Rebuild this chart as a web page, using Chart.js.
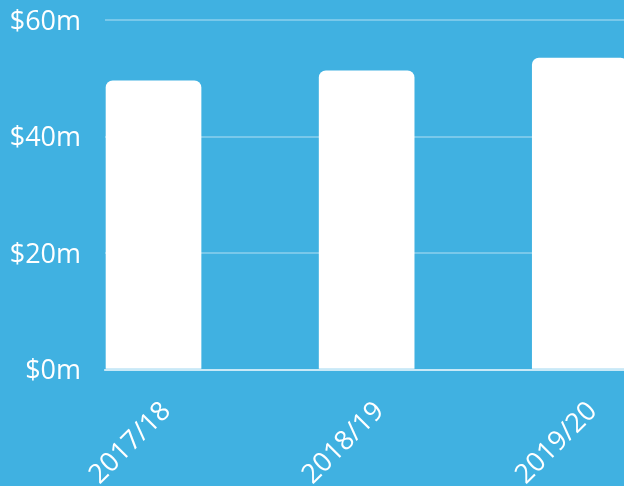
<!DOCTYPE html>
<html>
<head>
<meta charset="utf-8">
<script src="https://cdn.jsdelivr.net/npm/chart.js@4"></script>
<style>
  html, body { margin: 0; padding: 0; background: #40b1e1; overflow: hidden; }
  #wrap { position: relative; width: 723px; height: 506px; margin-top: -20px; }
</style>
</head>
<body>
<div id="wrap"><canvas id="budgetChart"></canvas></div>
<script>
const years = ['2017/18', '2018/19', '2019/20']
const funding = [49.6, 51.3, 53.5]   // $ millions
const yTicks = [0, 20, 40, 60]

const barData = {
    datasets: [{
        label: 'Funding',
        data: funding.map((v, i) => ({x: i, y: v})),
        backgroundColor: '#ffffff',
        borderRadius: 7,
        borderSkipped: 'start',
        barThickness: 95
    }]
}

const config_bar = {
    type: 'bar',
    data: barData,
    options: {
        responsive: true,
        maintainAspectRatio: false,
        animation: false,
        layout: {padding: 0},
        plugins: {
            legend: {display: false},
            tooltip: {enabled: false}
        },
        scales: {
            x: {
                type: 'linear',
                offset: false,
                min: -0.2277,
                max: 2.672,
                grid: {display: false, offset: false},
                border: {display: true, color: 'rgba(255,255,255,0.6)', width: 2},
                afterBuildTicks: function(scale) {
                    scale.ticks = years.map((_, i) => ({value: i}))
                },
                afterFit: function(scale) { scale.height = 116.5 },
                ticks: {
                    color: '#ffffff',
                    font: {family: 'Open Sans', size: 27},
                    minRotation: 45,
                    maxRotation: 45,
                    autoSkip: false,
                    padding: 18,
                    labelOffset: 13,
                    callback: function(value) { return years[value] }
                }
            },
            y: {
                min: 0,
                max: 60,
                afterBuildTicks: function(scale) {
                    scale.ticks = yTicks.map(v => ({value: v}))
                },
                afterFit: function(scale) { scale.width = 105 },
                grid: {color: 'rgba(255,255,255,0.3)', lineWidth: 2, drawTicks: false},
                border: {display: false},
                ticks: {
                    color: '#ffffff',
                    padding: 24,
                    labelOffset: 2,
                    font: {family: 'Open Sans', size: 27},
                    callback: function(value) { return '$' + value + 'm' }
                }
            }
        }
    }
}

new Chart(document.getElementById('budgetChart'), config_bar)
</script>
</body>
</html>
